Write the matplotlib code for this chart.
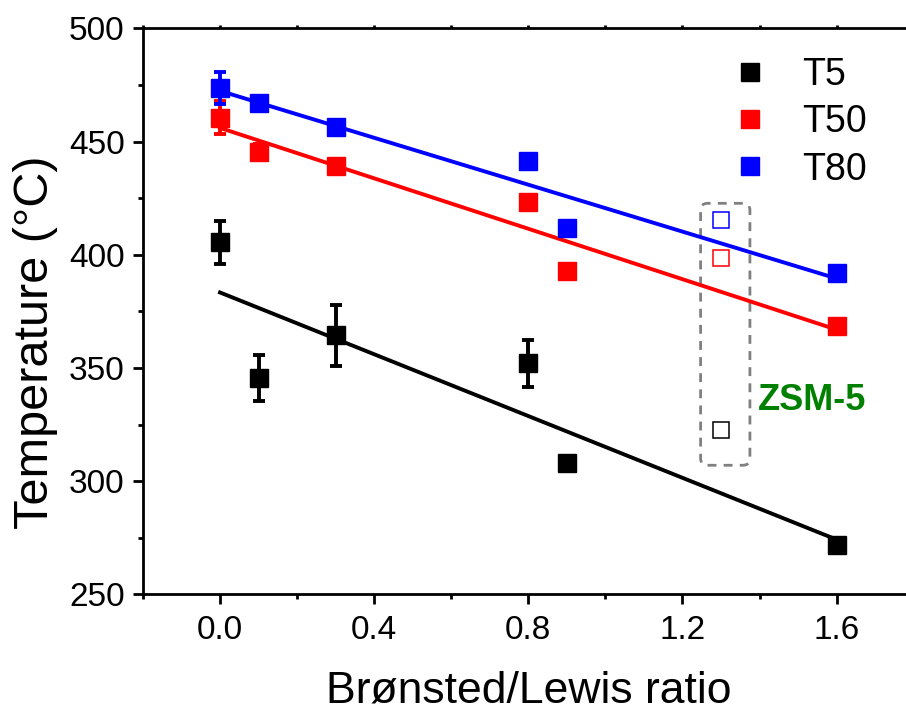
import matplotlib
matplotlib.use("Agg")
import matplotlib.pyplot as plt
from matplotlib.patches import FancyBboxPatch
from matplotlib.lines import Line2D
import numpy as np

plt.rcParams["font.family"] = ["Liberation Sans", "DejaVu Sans"]

# --- data ---
ratio = [0.0, 0.1, 0.3, 0.8, 0.9, 1.6]

t5      = [405.5, 345.5, 364.5, 352.0, 308.0, 272.0]
t5_err  = [9.5, 10.0, 13.5, 10.5, 1.5, 3.0]
t50     = [460.5, 445.5, 439.0, 423.5, 393.0, 368.5]
t50_err = [7.3, 3.5, 1.5, 1.0, 3.0, 3.0]
t80     = [473.5, 467.0, 456.5, 441.5, 412.0, 392.0]
t80_err = [7.0, 3.0, 1.5, 3.0, 0.5, 1.0]

# ZSM-5 reference (open squares)
zsm_ratio = 1.3
zsm_t5, zsm_t50, zsm_t80 = 322.5, 398.5, 415.5

series = [
    ("T5",  t5,  t5_err,  "black",   zsm_t5),
    ("T50", t50, t50_err, "#ff0000", zsm_t50),
    ("T80", t80, t80_err, "#0000ff", zsm_t80),
]

fig = plt.figure(figsize=(9.06, 7.11), dpi=100)
ax = fig.add_axes([0.1578, 0.1641, 0.8507, 0.7961])

xs = np.array(ratio)
handles = []
for name, vals, errs, col, zsm in series:
    # linear fit
    k, b = np.polyfit(xs, vals, 1)
    ax.plot([xs.min(), xs.max()], [k * xs.min() + b, k * xs.max() + b],
            color=col, lw=2.8, zorder=2)
    ax.errorbar(ratio, vals, yerr=errs, fmt="s", color=col, ms=12.3,
                elinewidth=2.8, capsize=4.3, capthick=2.8, zorder=3)
    ax.plot([zsm_ratio], [zsm], "s", mfc="white", mec=col, mew=1.1, ms=11.5,
            zorder=3)
    handles.append(Line2D([], [], ls="none", marker="s", color=col, ms=12.3,
                          label=name))

# dashed box round the ZSM-5 points
box = FancyBboxPatch((1.247, 307.0), 1.375 - 1.247, 422.7 - 307.0,
                     boxstyle="round,pad=0,rounding_size=0.018",
                     mutation_aspect=170, fill=False, ec="#808080", lw=2.0,
                     ls=(0, (3.2, 2.6)), zorder=1)
ax.add_patch(box)
ax.text(1.396, 335.5, "ZSM-5", color="#008000", fontsize=26,
        fontweight="bold", ha="left", va="center")

ax.set_xlim(-0.2, 1.8)
ax.set_ylim(250, 500)
ax.set_xticks([0.0, 0.4, 0.8, 1.2, 1.6])
ax.set_xticks(np.arange(-0.2, 1.81, 0.2), minor=True)
ax.set_yticks([250, 300, 350, 400, 450, 500])
ax.set_yticks(np.arange(275, 500, 50), minor=True)
ax.xaxis.set_major_formatter(matplotlib.ticker.FormatStrFormatter("%.1f"))

for s in ax.spines.values():
    s.set_linewidth(2.0)
ax.tick_params(axis="both", which="major", direction="out", length=7.2,
               width=2.0, labelsize=24, pad=6)
ax.tick_params(axis="both", which="minor", direction="out", length=3.8,
               width=2.0)
ax.tick_params(axis="x", which="major", pad=8)
ax.tick_params(axis="x", which="both", top=True)
for t in ax.xaxis.get_major_ticks() + ax.xaxis.get_minor_ticks():
    t.tick2line.set_markersize(2)

ax.set_xlabel("Brønsted/Lewis ratio", fontsize=32, labelpad=17)
ax.set_ylabel("Temperature (°C)", fontsize=35)
ax.yaxis.set_label_coords(-0.110, 0.446)

leg = ax.legend(handles=handles, loc="upper left",
                bbox_to_anchor=(731 / 906, 1 - 57 / 711),
                bbox_transform=fig.transFigure, frameon=False, fontsize=27,
                handlelength=1.0, handletextpad=0.9, borderpad=0,
                borderaxespad=0, labelspacing=0.3)

fig.savefig("out.png", dpi=100)
